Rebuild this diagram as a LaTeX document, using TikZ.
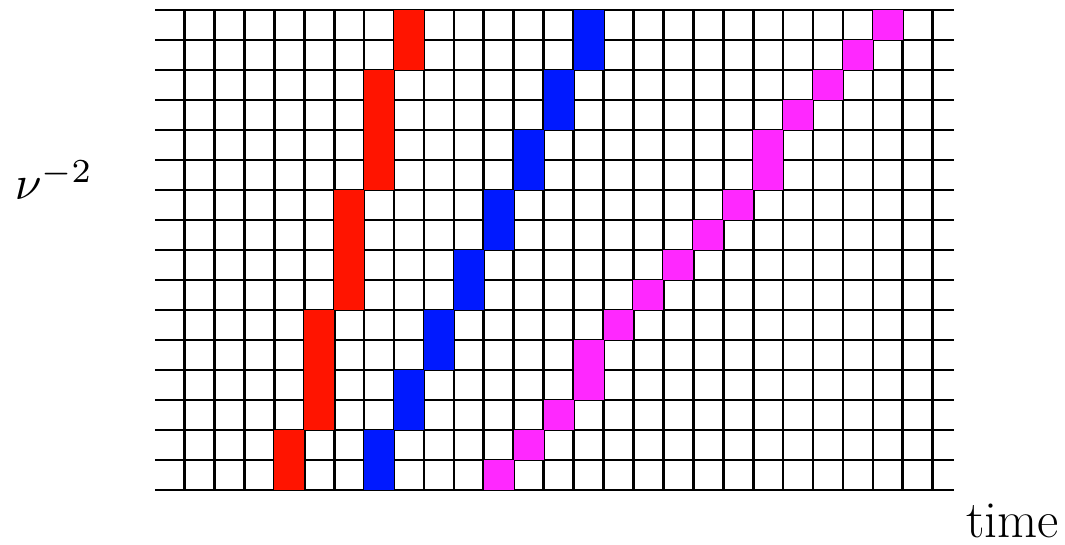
\documentclass[tikz,border=0pt]{standalone}
\usepackage{xcolor}
\definecolor{cred}{RGB}{255,20,0}
\definecolor{cblue}{RGB}{0,25,255}
\definecolor{cmag}{RGB}{255,40,255}
\newcommand\cellrun[4]{%
  \fill[#1] ({184.5+29.93*(#2)},{490-30*(#3)}) rectangle ({184.5+29.93*(#2+1)},{490-30*(#4+1)});}
\begin{document}
\begin{tikzpicture}[x=1pt,y=-1pt,
  gridline/.style={line width=2.7pt,black},
  lbl/.style={inner sep=0pt,anchor=base west,font=\fontsize{52}{60}\selectfont},
  mlbl/.style={inner sep=0pt,anchor=base west,scale=4.8}]
\useasboundingbox (0,0) rectangle (1065,545);
\foreach \r in {0,...,16} \draw[gridline] (155,{10+30*\r}) -- (954,{10+30*\r});
\foreach \i in {0,...,25} \draw[gridline] ({184.5+29.93*\i},10) -- ({184.5+29.93*\i},490);
% red
\cellrun{cred}{3}{0}{1}
\cellrun{cred}{4}{2}{5}
\cellrun{cred}{5}{6}{9}
\cellrun{cred}{6}{10}{13}
\cellrun{cred}{7}{14}{15}
% blue
\cellrun{cblue}{6}{0}{1}
\cellrun{cblue}{7}{2}{3}
\cellrun{cblue}{8}{4}{5}
\cellrun{cblue}{9}{6}{7}
\cellrun{cblue}{10}{8}{9}
\cellrun{cblue}{11}{10}{11}
\cellrun{cblue}{12}{12}{13}
\cellrun{cblue}{13}{14}{15}
% magenta
\cellrun{cmag}{10}{0}{0}
\cellrun{cmag}{11}{1}{1}
\cellrun{cmag}{12}{2}{2}
\cellrun{cmag}{13}{3}{4}
\cellrun{cmag}{14}{5}{5}
\cellrun{cmag}{15}{6}{6}
\cellrun{cmag}{16}{7}{7}
\cellrun{cmag}{17}{8}{8}
\cellrun{cmag}{18}{9}{9}
\cellrun{cmag}{19}{10}{11}
\cellrun{cmag}{20}{12}{12}
\cellrun{cmag}{21}{13}{13}
\cellrun{cmag}{22}{14}{14}
\cellrun{cmag}{23}{15}{15}
\node[mlbl] (nu) at (14,200) {$\nu^{-2}$};
\node[lbl] (time) at (966,537) {time};
\end{tikzpicture}
\end{document}
